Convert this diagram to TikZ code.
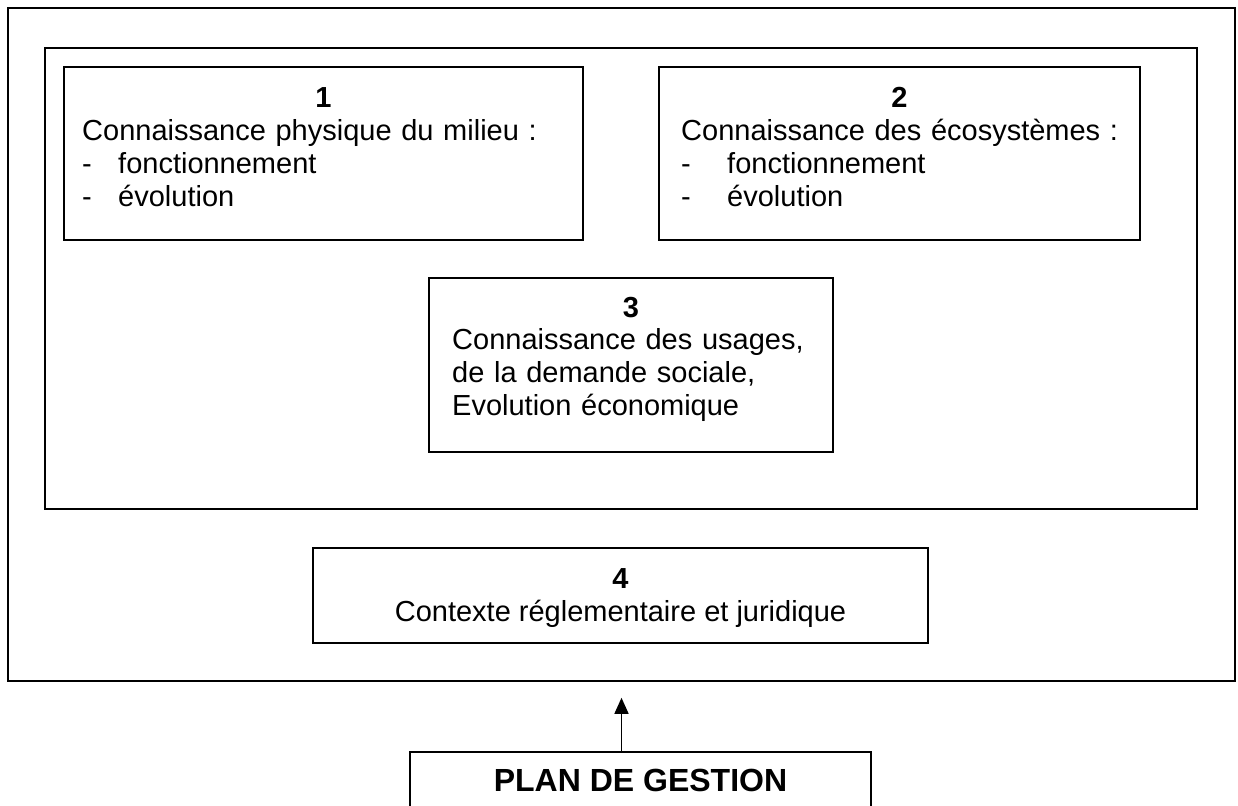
\documentclass[tikz,border=0pt]{standalone}
\usepackage{fontspec}
\setmainfont{Liberation Sans}
\usetikzlibrary{arrows.meta}

\tikzset{
  frame/.style={draw, line width=1.6pt, inner sep=0pt},
  num/.style={font=\fontsize{29pt}{33pt}\selectfont\bfseries, inner sep=0pt, anchor=base},
  body/.style={font=\fontsize{29pt}{33pt}\selectfont, inner sep=0pt, align=left, anchor=base west},
}
\newcommand{\dashitem}[2]{\makebox[#1][l]{-}#2}

\begin{document}
\begin{tikzpicture}[x=1pt, y=1pt]
    \useasboundingbox (0,0) rectangle (1238,805);

    % Frames
    \node[frame, minimum width=1227, minimum height=673] (outer) at (621.5,460.5) {};
    \node[frame, minimum width=1152, minimum height=461] (inner) at (621,526.5) {};

    % Box 1
    \node[frame, minimum width=519, minimum height=173] (milieu) at (323.5,651.5) {};
    \node[num] (milieunum) at (323.5,697.6) {1};
    \node[body, text width=470] (milieutxt) at (82,664.6) {Connaissance physique du milieu :\\
      \dashitem{36pt}{fonctionnement}\\ \dashitem{36pt}{évolution}};

    % Box 2
    \node[frame, minimum width=481, minimum height=173] (ecosys) at (899.5,651.5) {};
    \node[num] (ecosysnum) at (899.5,697.6) {2};
    \node[body, text width=440] (ecosystxt) at (681,664.6) {Connaissance des écosystèmes :\\
      \dashitem{46pt}{fonctionnement}\\ \dashitem{46pt}{évolution}};

    % Box 3
    \node[frame, minimum width=404, minimum height=174] (usages) at (631,440) {};
    \node[num] (usagesnum) at (631,487.6) {3};
    \node[body, text width=360] (usagestxt) at (452,455.6) {Connaissance des usages,\\
      de la demande sociale,\\ Evolution économique};

    % Box 4
    \node[frame, minimum width=615, minimum height=95] (contexte) at (620.5,209.5) {};
    \node[num] (contextenum) at (620.5,216.6) {4};
    \node[num, font=\fontsize{29pt}{33pt}\selectfont] (contextetxt) at (620.5,183.6) {Contexte réglementaire et juridique};

    % Plan de gestion
    \node[frame, minimum width=461, minimum height=56, font=\fontsize{32pt}{36pt}\selectfont\bfseries] (plan) at (640.5,25) {PLAN DE GESTION};
    \coordinate (tip) at ([yshift=-16pt]outer.south);
    \draw[line width=1.5pt, -{Triangle[width=14pt,length=16pt]}] (plan.north -| tip) -- (tip);

\end{tikzpicture}
\end{document}
